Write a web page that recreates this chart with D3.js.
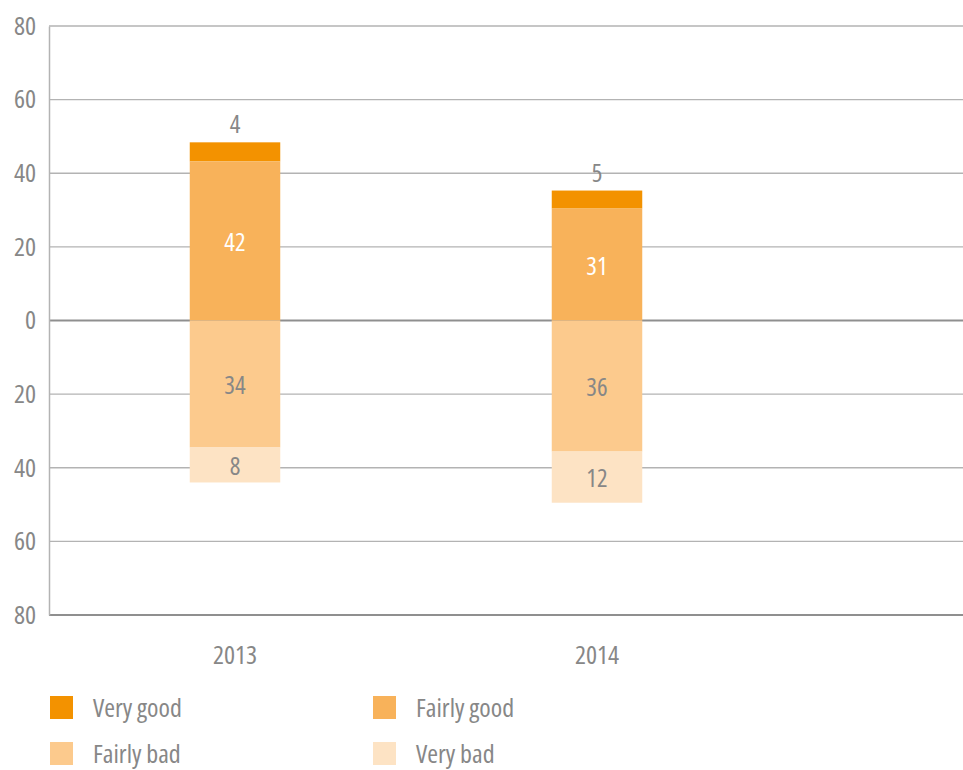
<!DOCTYPE html>
<html>
<head>
<meta charset="utf-8">
<script src="https://cdn.jsdelivr.net/npm/d3@7"></script>
<style>
  body { margin: 0; background: #fff; }
  text { font-family: "Open Sans", sans-serif; font-stretch: 83%; }
</style>
</head>
<body>
<div id="chart"></div>
<script>
// data
var years = ["2013", "2014"];
var seriesNames = ["Very good", "Fairly good", "Fairly bad", "Very bad"];
var seriesColors = ["#F39200", "#F8B25A", "#FCCA8D", "#FDE3C4"];
// bar lengths as drawn (good above zero, bad below)
var veryGood   = [5.2, 4.9];
var fairlyGood = [43.2, 30.4];
var fairlyBad  = [34.5, 35.6];
var veryBad    = [9.5, 13.9];
// printed labels
var veryGoodLabels   = [4, 5];
var fairlyGoodLabels = [42, 31];
var fairlyBadLabels  = [34, 36];
var veryBadLabels    = [8, 12];
var yTicks = [-80, -60, -40, -20, 0, 20, 40, 60, 80];

var width = 963, height = 770;
var plotLeft = 49, plotRight = 963;

var svg = d3.select("#chart").append("svg")
  .attr("width", width)
  .attr("height", height);

var yScale = d3.scaleLinear()
  .domain([-80, 80])
  .range([615, 26]);

var xScale = d3.scaleBand()
  .domain(years)
  .range([54, 778])
  .padding(0);

var barW = xScale.bandwidth() * 0.25;

// grid lines
svg.append("g")
  .selectAll("line")
  .data(yTicks)
  .enter().append("line")
  .attr("x1", plotLeft)
  .attr("x2", plotRight)
  .attr("y1", d => yScale(d))
  .attr("y2", d => yScale(d))
  .attr("stroke", d => (d == 0 || d == -80) ? "#8f8f8f" : "#b3b3b3")
  .attr("stroke-width", d => (d == 0 || d == -80) ? 2 : 1.3);

// left axis
var yAxis = d3.axisLeft(yScale)
  .tickValues(yTicks)
  .tickSize(0)
  .tickPadding(13)
  .tickFormat(d => Math.abs(d));

var yG = svg.append("g")
  .attr("transform", "translate(" + plotLeft + ",0)")
  .call(yAxis);
yG.select(".domain").attr("stroke", "#b3b3b3").attr("stroke-width", 1.5);
yG.selectAll("text")
  .attr("fill", "#878787")
  .style("font-size", "26px");

// x axis labels
var xAxis = d3.axisBottom(xScale).tickSize(0).tickPadding(31);
var xG = svg.append("g")
  .attr("transform", "translate(0,615)")
  .call(xAxis);
xG.select(".domain").remove();
xG.selectAll("text")
  .attr("fill", "#878787")
  .style("font-size", "26px");

// stacked segments
var segments = [];
years.forEach(function(yr, i) {
  segments.push({ year: yr, s: 0, y0: fairlyGood[i], y1: fairlyGood[i] + veryGood[i], label: veryGoodLabels[i], pos: "above" });
  segments.push({ year: yr, s: 1, y0: 0, y1: fairlyGood[i], label: fairlyGoodLabels[i], pos: "mid" });
  segments.push({ year: yr, s: 2, y0: -fairlyBad[i], y1: 0, label: fairlyBadLabels[i], pos: "mid" });
  segments.push({ year: yr, s: 3, y0: -fairlyBad[i] - veryBad[i], y1: -fairlyBad[i], label: veryBadLabels[i], pos: "mid" });
});

svg.append("g")
  .selectAll("rect")
  .data(segments)
  .enter().append("rect")
  .attr("x", d => xScale(d.year) + xScale.bandwidth() / 2 - barW / 2)
  .attr("y", d => yScale(d.y1))
  .attr("width", barW)
  .attr("height", d => yScale(d.y0) - yScale(d.y1))
  .attr("fill", d => seriesColors[d.s]);

svg.append("g")
  .selectAll("text")
  .data(segments)
  .enter().append("text")
  .attr("x", d => xScale(d.year) + xScale.bandwidth() / 2)
  .attr("y", function(d) {
    if (d.pos == "above") return yScale(d.y1) - 19;
    return (yScale(d.y0) + yScale(d.y1)) / 2;
  })
  .attr("text-anchor", "middle")
  .attr("dominant-baseline", "central")
  .attr("fill", d => d.s == 1 ? "#fff" : "#878787")
  .style("font-size", "25px")
  .text(d => d.label);

// legend
var legendX = [50, 373];
var legendY = [696, 742];
var legend = svg.append("g")
  .selectAll("g")
  .data(seriesNames)
  .enter().append("g")
  .attr("transform", (d, i) => "translate(" + legendX[i % 2] + "," + legendY[Math.floor(i / 2)] + ")");

legend.append("rect")
  .attr("width", 23)
  .attr("height", 23)
  .attr("fill", (d, i) => seriesColors[i]);

legend.append("text")
  .attr("x", 43)
  .attr("y", 11)
  .attr("dominant-baseline", "central")
  .attr("fill", "#878787")
  .style("font-size", "26px")
  .text(d => d);
</script>
</body>
</html>
